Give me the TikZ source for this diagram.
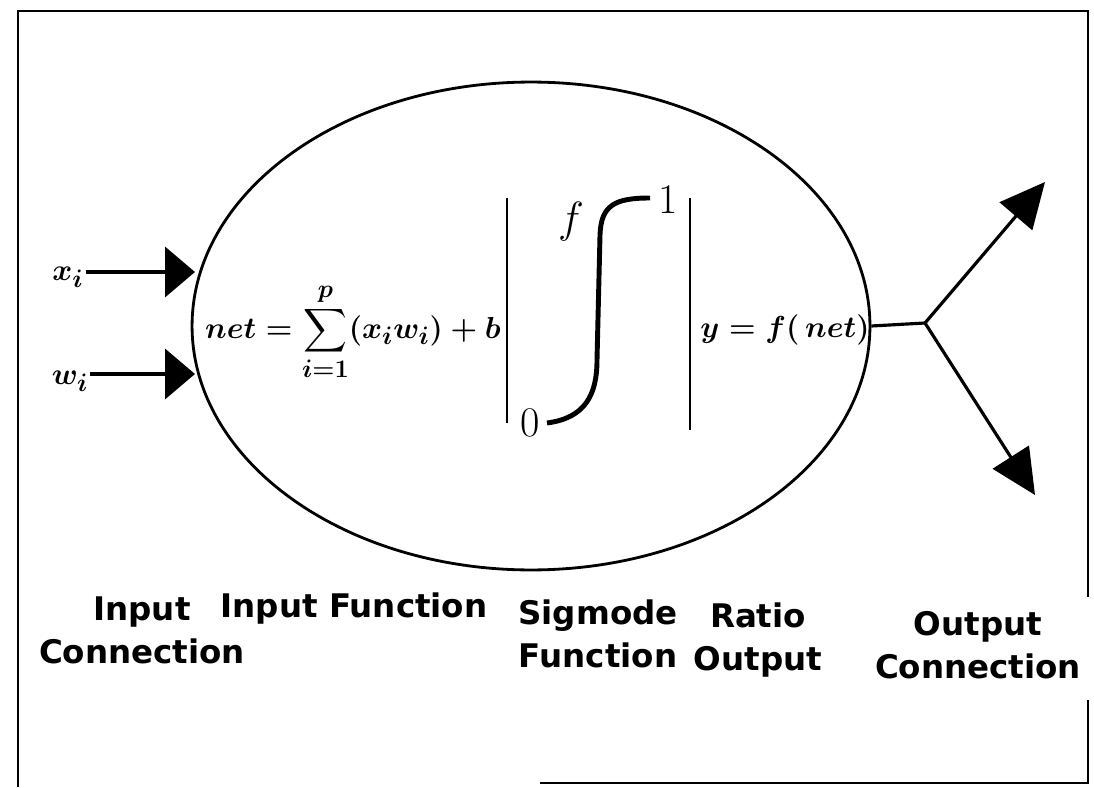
\documentclass[tikz,border=0pt]{standalone}
\usepackage{amsmath}
\usepackage{fontspec}
\newfontfamily\lblfont{DejaVu Sans}
\usepackage{tikz}
\usetikzlibrary{positioning,arrows.meta,shapes.geometric}

\begin{document}
\begin{tikzpicture}[x=0.02cm, y=-0.02cm,
  cell/.style={ellipse, draw, line width=1.6pt, minimum width=13.56cm,
               minimum height=9.76cm, inner sep=0pt},
  inar/.style={-{Triangle[length=0.6cm, width=1.0cm]}, line width=2.2pt},
  outar/.style={-{Triangle[length=0.9cm, width=0.85cm]}, line width=1.8pt},
  frm/.style={line width=1.2pt},
  bar/.style={line width=1.1pt},
  lbl/.style={font=\lblfont\bfseries\fontsize{18.5}{24.4}\selectfont,
              align=center, inner sep=0pt},
  eq/.style={font=\fontsize{19}{23}\selectfont\boldmath, inner sep=1pt},
  sm/.style={font=\fontsize{24}{28}\selectfont, inner sep=0pt}
]
\useasboundingbox (0,0) rectangle (1094,787);

% frame
\draw[frm] (18,787) -- (18,11) -- (1088,11) -- (1088,597);
\draw[frm] (1088,700) -- (1088,783) -- (540,783);

% neuron body
\node[cell] (cell) at (531,326) {};
\node[eq] (netf) at (353,332) {$\displaystyle net=\sum_{i=1}^{p}(x_i w_i)+b$};
\node[eq] (yout) at (785,330) {$y=f(\,net)$};

% sigmoid box
\draw[bar] (507,198) -- (507,423);
\draw[bar] (690,198) -- (690,430);
\draw[line width=2.8pt] (547,423) .. controls (585,418) and (597,395) .. (597,360)
  -- (600,235) .. controls (601,205) and (615,198) .. (650,198);
\node[sm] (fl)   at (571,222) {$f$};
\node[sm] (one)  at (668,200) {1};
\node[sm] (zero) at (530,423) {0};

% inputs
\node[eq] (xi) at (68,277) {$x_i$};
\node[eq] (wi) at (70,381) {$w_i$};
\coordinate (xtip) at (195,272);
\coordinate (wtip) at (195,374);
\draw[inar] (xi.east |- xtip) -- (xtip);
\draw[inar] (wi.east |- wtip) -- (wtip);

% outputs
\coordinate (fork)  at (925,323);
\coordinate (outup) at (1045,182);
\coordinate (outdn) at (1035,495);
\draw[line width=1.8pt] (cell.east) -- (fork);
\draw[outar] (fork) -- (outup);
\draw[outar] (fork) -- (outdn);

% captions
\node[lbl] (incon)  at (142,630) {Input\\Connection};
\node[lbl] (infun)  at (354,609) {Input Function};
\node[lbl] (sigfun) at (598,634) {Sigmode\\Function};
\node[lbl] (ratio)  at (758,640) {Ratio\\Output};
\node[lbl] (outcon) at (978,645) {Output\\Connection};
\end{tikzpicture}
\end{document}
